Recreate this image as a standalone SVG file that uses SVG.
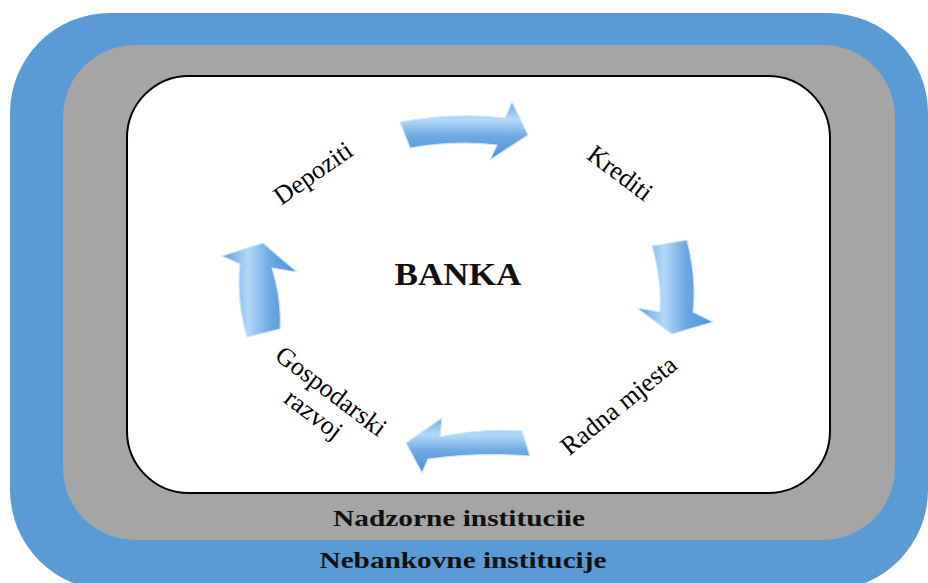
<svg xmlns="http://www.w3.org/2000/svg" width="928" height="583" viewBox="0 0 928 583">
<style>
.lbl{font-family:"Liberation Serif","Times New Roman",serif;font-size:26px;fill:#000;text-anchor:middle}
.bold{font-family:"Liberation Serif","Times New Roman",serif;font-weight:bold;fill:#111;text-anchor:middle}
.arrow{stroke:#cfe6fb;stroke-width:1.2;stroke-linejoin:round}
</style>
<defs>
<linearGradient id="gh" x1="0" y1="0" x2="0" y2="1">
<stop offset="0" stop-color="#6aaae6"/>
<stop offset="0.3" stop-color="#b5d9f8"/>
<stop offset="0.6" stop-color="#6ea9e2"/>
<stop offset="1" stop-color="#4b8fd6"/>
</linearGradient>
<linearGradient id="gv" x1="0" y1="0" x2="1" y2="0">
<stop offset="0" stop-color="#5c9ee0"/>
<stop offset="0.35" stop-color="#b3d7f7"/>
<stop offset="0.65" stop-color="#6ba8e3"/>
<stop offset="1" stop-color="#4c90d6"/>
</linearGradient>
</defs>
<g id="outer">
<rect x="10" y="13" width="918" height="577" rx="100" fill="#5b9bd5"/>
<text class="bold" x="463" y="568" font-size="24" textLength="287" lengthAdjust="spacingAndGlyphs">Nebankovne institucije</text>
</g>
<g id="middle">
<rect x="63" y="45" width="832" height="495" rx="72" fill="#a5a5a5"/>
<text class="bold" x="459" y="526" font-size="24" textLength="252" lengthAdjust="spacingAndGlyphs">Nadzorne instituciie</text>
</g>
<g id="bank">
<rect x="127" y="76" width="703" height="417" rx="62" fill="#fff" stroke="#000" stroke-width="2"/>
<text class="bold" x="458" y="285" font-size="32" textLength="127" lengthAdjust="spacingAndGlyphs">BANKA</text>
</g>
<g id="depoziti"><text class="lbl" transform="translate(318,180) rotate(-35)">Depoziti</text></g>
<g id="krediti"><text class="lbl" transform="translate(615,180) rotate(37)">Krediti</text></g>
<g id="radna"><text class="lbl" transform="translate(624,412) rotate(-39)">Radna mjesta</text></g>
<g id="gospodarski"><text class="lbl" transform="translate(326,398) rotate(37)"><tspan x="0" y="0">Gospodarski</tspan><tspan x="0" y="29">razvoj</tspan></text></g>
<g id="connectors">
<path class="arrow" fill="url(#gh)" d="M400,122 Q455,112 505,118 L512,102 L528,135 L490,160 L497,145 Q455,140 410,148 Z"/>
<path class="arrow" fill="url(#gv)" d="M652,246 L687,240 Q697,280 693,312 L713,322 L672,334 L637,308 L660,312 Q662,280 652,246 Z"/>
<path class="arrow" fill="url(#gh)" d="M522,431 Q480,428 440,437 L442,418 L406,443 L422,473 L428,459 Q480,452 530,456 Z"/>
<path class="arrow" fill="url(#gv)" d="M247,337 Q236,300 240,264 L222,256 L263,243 L297,272 L272,268 Q282,300 280,329 Z"/>
</g>
</svg>
